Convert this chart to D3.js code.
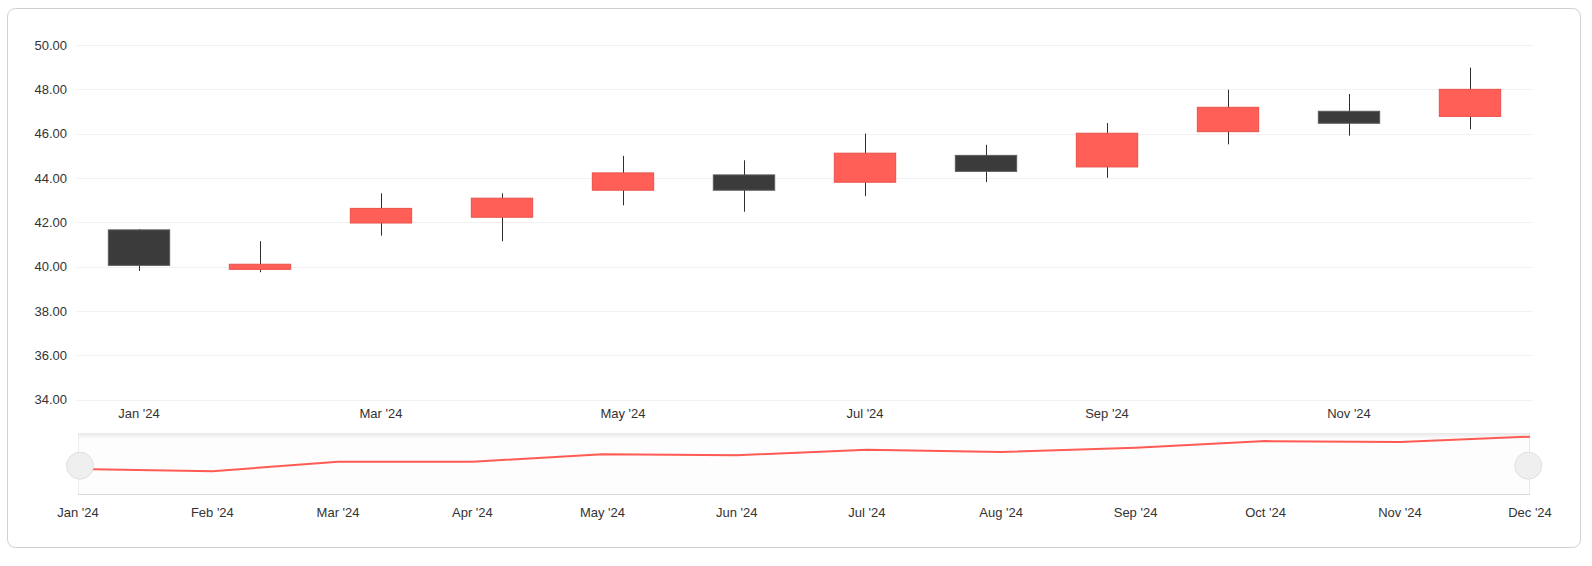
<!DOCTYPE html>
<html>

<head>
    <meta charset='utf-8'>
</head>
<style>
    body {
        margin: 0;
        background: #fff;
    }
    text {
        font-family: 'Liberation Sans', Arial, sans-serif;
        font-size: 13px;
        fill: #333;
    }
</style>

<body>
    <svg width="1592" height="566"></svg>
    <script src="https://d3js.org/d3.v7.min.js"></script>
    <script>
        // monthly candles
        var months = ["2024-01", "2024-02", "2024-03", "2024-04", "2024-05", "2024-06",
                      "2024-07", "2024-08", "2024-09", "2024-10", "2024-11", "2024-12"];
        var openVals  = [41.66, 39.88, 41.97, 42.23, 43.45, 44.14, 43.81, 45.02, 44.50, 46.09, 47.01, 46.78];
        var highVals  = [41.69, 41.15, 43.31, 43.31, 45.00, 44.80, 46.00, 45.50, 46.48, 47.98, 47.79, 48.98];
        var lowVals   = [39.81, 39.75, 41.40, 41.15, 42.77, 42.48, 43.18, 43.82, 44.01, 45.52, 45.91, 46.20];
        var closeVals = [40.06, 40.11, 42.63, 43.09, 44.23, 43.45, 45.12, 44.30, 46.02, 47.19, 46.47, 48.00];
        var yTicks = [34, 36, 38, 40, 42, 44, 46, 48, 50];

        var parse = d3.timeParse("%Y-%m");
        var fmt = d3.timeFormat("%b '%y");
        var data = months.map(function(m, i) {
            return {
                date: parse(m),
                open: openVals[i],
                high: highVals[i],
                low: lowVals[i],
                close: closeVals[i]
            };
        });

        var svg = d3.select('svg');

        // card frame
        svg.append('rect')
            .attr('x', 7.5).attr('y', 8.5)
            .attr('width', 1573).attr('height', 539)
            .attr('rx', 8)
            .attr('fill', '#fff')
            .attr('stroke', '#cfcfcf');

        var x = d3.scaleBand()
            .domain(months)
            .range([78.5, 1530.5])
            .padding(0);
        var y = d3.scaleLinear()
            .domain([34, 50])
            .range([399.7, 45]);

        // horizontal grid + y labels
        var grid = svg.append('g');
        grid.selectAll('line')
            .data(yTicks)
            .enter().append('line')
            .attr('x1', 77).attr('x2', 1533)
            .attr('y1', function(d) { return Math.round(y(d)) + 0.5; })
            .attr('y2', function(d) { return Math.round(y(d)) + 0.5; })
            .attr('stroke', '#f1f1f1');
        grid.selectAll('text')
            .data(yTicks)
            .enter().append('text')
            .attr('x', 67)
            .attr('y', function(d) { return y(d); })
            .attr('dy', '0.35em')
            .attr('text-anchor', 'end')
            .text(function(d) { return d.toFixed(2); });

        // main x labels, every second month
        svg.append('g').selectAll('text')
            .data(months.filter(function(d, i) { return i % 2 == 0; }))
            .enter().append('text')
            .attr('x', function(d) { return x(d) + x.bandwidth() / 2; })
            .attr('y', 413)
            .attr('dy', '0.35em')
            .attr('text-anchor', 'middle')
            .text(function(d) { return fmt(parse(d)); });

        // candles
        var bodyW = x.bandwidth() * 0.507;
        var candle = svg.append('g').selectAll('g')
            .data(data)
            .enter().append('g');
        candle.append('line')
            .attr('x1', function(d, i) { return Math.round(x(months[i]) + x.bandwidth() / 2) + 0.5; })
            .attr('x2', function(d, i) { return Math.round(x(months[i]) + x.bandwidth() / 2) + 0.5; })
            .attr('y1', function(d) { return y(d.high); })
            .attr('y2', function(d) { return y(d.low); })
            .attr('stroke', '#2e2e2e')
            .attr('stroke-width', 1);
        candle.append('rect')
            .attr('x', function(d, i) { return x(months[i]) + (x.bandwidth() - bodyW) / 2; })
            .attr('width', bodyW)
            .attr('y', function(d) { return y(Math.max(d.open, d.close)); })
            .attr('height', function(d) { return Math.abs(y(d.open) - y(d.close)); })
            .attr('fill', function(d) { return d.close > d.open ? '#ff5f57' : '#3b3b3b'; })
            .attr('stroke', function(d) { return d.close > d.open ? '#e8524a' : '#5a5a5a'; })
            .attr('stroke-width', 1);

        // scrollbar
        var sx = d3.scaleTime()
            .domain([data[0].date, data[data.length - 1].date])
            .range([78, 1530]);
        var sy = d3.scaleLinear()
            .domain([36, 49.75])
            .range([494, 433.3]);

        var defs = svg.append('defs');
        var grad = defs.append('linearGradient')
            .attr('id', 'sbShade')
            .attr('x1', 0).attr('x2', 0).attr('y1', 0).attr('y2', 1);
        grad.append('stop').attr('offset', '0%').attr('stop-color', '#e8e8e8');
        grad.append('stop').attr('offset', '100%').attr('stop-color', '#fdfdfd');

        var sb = svg.append('g');
        sb.append('rect')
            .attr('x', 78).attr('y', 433)
            .attr('width', 1452).attr('height', 61)
            .attr('fill', '#fdfdfd');
        sb.append('rect')
            .attr('x', 78).attr('y', 433)
            .attr('width', 1452).attr('height', 6)
            .attr('fill', 'url(#sbShade)');
        sb.append('line')
            .attr('x1', 78).attr('x2', 1530)
            .attr('y1', 494.5).attr('y2', 494.5)
            .attr('stroke', '#dadada');
        sb.append('line')
            .attr('x1', 78.5).attr('x2', 78.5)
            .attr('y1', 433).attr('y2', 494)
            .attr('stroke', '#ececec');
        sb.append('line')
            .attr('x1', 1529.5).attr('x2', 1529.5)
            .attr('y1', 433).attr('y2', 494)
            .attr('stroke', '#e6e6e6');

        var line = d3.line()
            .x(function(d) { return sx(d.date); })
            .y(function(d) { return sy(d.high); });
        sb.append('path')
            .datum(data)
            .attr('d', line)
            .attr('fill', 'none')
            .attr('stroke', '#ff5b52')
            .attr('stroke-width', 2);

        // grips
        sb.selectAll('circle')
            .data([sx.range()[0] + 2, sx.range()[1] - 1.7])
            .enter().append('circle')
            .attr('cx', function(d) { return d; })
            .attr('cy', 465.7)
            .attr('r', 13.5)
            .attr('fill', '#efefef')
            .attr('stroke', '#e0e0e0');

        // scrollbar date labels
        svg.append('g').selectAll('text')
            .data(data)
            .enter().append('text')
            .attr('x', function(d) { return sx(d.date); })
            .attr('y', 512)
            .attr('dy', '0.35em')
            .attr('text-anchor', 'middle')
            .text(function(d) { return fmt(d.date); });
    </script>
</body>

</html>
